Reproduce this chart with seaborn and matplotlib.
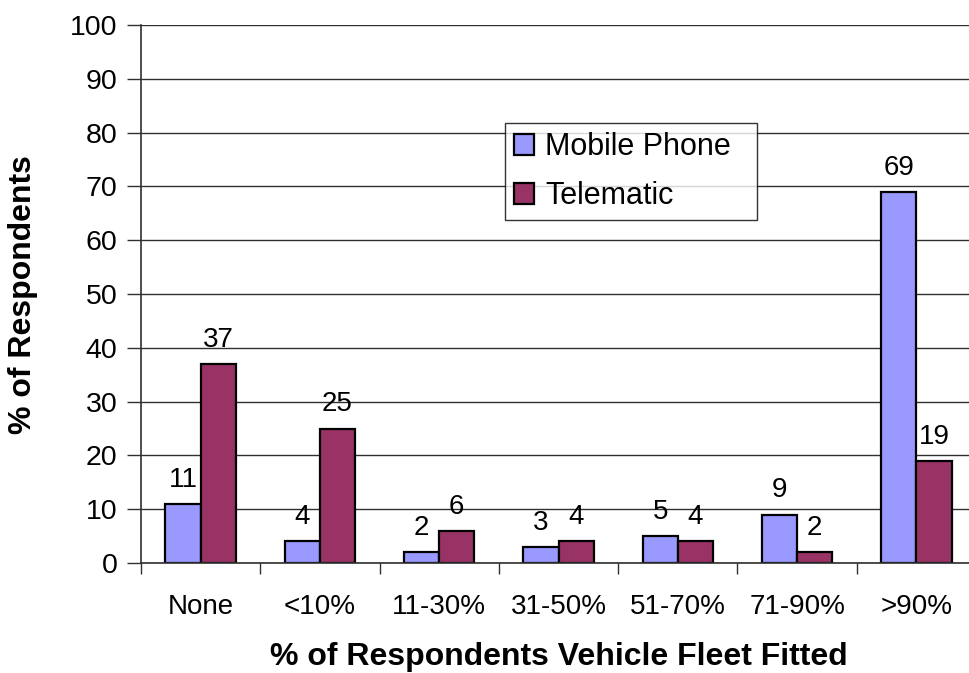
import matplotlib
matplotlib.use("Agg")
import matplotlib.pyplot as plt
import seaborn as sns
import pandas as pd
import numpy as np

categories = ["None", "<10%", "11-30%", "31-50%", "51-70%", "71-90%", ">90%"]
mobile_phone = [11, 4, 2, 3, 5, 9, 69]
telematic = [37, 25, 6, 4, 4, 2, 19]
series_names = ["Mobile Phone", "Telematic"]
colors = ["#9999FF", "#993366"]
y_ticks = [0, 10, 20, 30, 40, 50, 60, 70, 80, 90, 100]

df = pd.DataFrame({
    "Category": categories * 2,
    "Value": mobile_phone + telematic,
    "Series": [series_names[0]] * len(categories) + [series_names[1]] * len(categories),
})

sns.set_style("white")
plt.rcParams["font.family"] = ["Liberation Sans", "DejaVu Sans"]
plt.rcParams["text.color"] = "black"
plt.rcParams["axes.labelcolor"] = "black"
plt.rcParams["xtick.color"] = "black"
plt.rcParams["ytick.color"] = "black"

W, H = 969, 673
fig = plt.figure(figsize=(W / 100, H / 100), dpi=100)
ax = fig.add_axes([141 / W, 1 - 563 / H, 835 / W, 538 / H])

sns.barplot(data=df, x="Category", y="Value", hue="Series", order=categories,
            hue_order=series_names, palette=colors, width=0.59,
            edgecolor="black", linewidth=1.6, ax=ax, saturation=1)

ax.set_xlim(-0.5, 6.5)
ax.set_ylim(0, 100)
ax.set_yticks(y_ticks)
ax.yaxis.grid(True, color="#303030", lw=1)
ax.set_axisbelow(True)

for s in ["top", "right"]:
    ax.spines[s].set_visible(False)
for s in ["left", "bottom"]:
    ax.spines[s].set_color("#303030")
    ax.spines[s].set_linewidth(1.2)

ax.tick_params(axis="y", which="major", direction="out", length=10, width=1,
               color="#303030", labelcolor="black", labelsize=20.5, pad=7, left=True)
ax.tick_params(axis="x", which="major", length=0, labelsize=20, labelcolor="black", pad=22)
ax.set_xticks(np.arange(-0.5, 6.0, 1.0), minor=True)
ax.tick_params(axis="x", which="minor", direction="out", length=8, width=1,
               color="#303030", bottom=True)

for cont in ax.containers:
    ax.bar_label(cont, padding=8, fontsize=20, color="black")

ax.set_xlabel("% of Respondents Vehicle Fleet Fitted", fontsize=23,
              fontweight="bold", labelpad=16, color="black")
ax.set_ylabel("% of Respondents", fontsize=23, fontweight="bold", color="black")
ax.yaxis.set_label_coords((38 - 141) / 835, (563 - 295) / 538)

leg = ax.legend(loc="upper left",
                bbox_to_anchor=(505 / W, 1 - 220 / H, 252 / W, 97 / H),
                bbox_transform=fig.transFigure, mode="expand", fontsize=22,
                frameon=True, fancybox=False, edgecolor="black",
                handlelength=0.65, handleheight=0.65, handletextpad=0.36,
                borderpad=0.3, labelspacing=0.62, borderaxespad=0)
leg.get_frame().set_linewidth(1)
for t in leg.get_texts():
    t.set_color("black")

fig.savefig("out.png", dpi=100)
